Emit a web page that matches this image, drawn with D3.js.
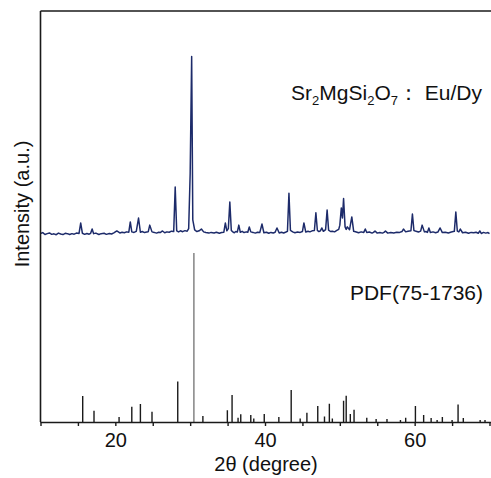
<!DOCTYPE html>
<html>
<head>
<meta charset="utf-8">
<script src="https://cdn.jsdelivr.net/npm/d3@7"></script>
<style>
  html, body { margin: 0; padding: 0; background: #fff; }
  svg { display: block; font-family: "Liberation Sans", Arial, sans-serif; }
</style>
</head>
<body>
<svg id="chart" width="491" height="478"></svg>
<script>
// ---------- data ----------
const xTicks = [10, 15, 20, 25, 30, 35, 40, 45, 50, 55, 60, 65, 70];
const xTickLabels = [20, 40, 60];

// measured XRD pattern: [2θ, relative intensity %]
const xrdPattern = [
  [10.0, 0.3], [10.3, 0.8], [10.6, -0.3], [10.9, 0.2], [11.2, 0.6], [11.5, -0.2], [11.8, 0.1],
  [12.1, -0.4], [12.4, 0.5], [12.7, 0.0], [13.0, -0.3], [13.3, 0.4], [13.6, 0.2], [13.9, -0.3],
  [14.2, 0.2], [14.5, -0.1], [14.8, 0.5], [15.15, 0.3], [15.37, 6.2], [15.6, 0.4], [15.9, -0.2],
  [16.2, 0.3], [16.5, -0.1], [16.7, 0.4], [16.9, 2.8], [17.1, 0.2], [17.4, 0.5], [17.8, -0.3],
  [18.1, 0.2], [18.5, 0.4], [18.8, -0.2], [19.2, 0.3], [19.5, 0.0], [19.8, 0.6], [20.2, 1.7],
  [20.6, 0.6], [20.9, 1.0], [21.2, 0.7], [21.5, 1.2], [21.8, 1.0], [22.0, 6.8], [22.2, 1.2],
  [22.5, 0.9], [22.8, 1.5], [23.1, 9.0], [23.35, 1.0], [23.6, 1.4], [23.9, 0.8], [24.2, 1.1],
  [24.4, 1.3], [24.6, 5.0], [24.9, 1.2], [25.2, 0.9], [25.5, 0.5], [25.8, 1.0], [26.0, 0.8],
  [26.3, 1.7], [26.6, 0.7], [26.9, 1.2], [27.2, 1.0], [27.5, 1.6], [27.8, 1.4], [28.0, 26.5],
  [28.2, 1.8], [28.45, 1.2], [28.7, 1.8], [29.0, 1.3], [29.3, 1.9], [29.6, 1.6], [29.8, 3.0],
  [30.0, 34], [30.2, 100], [30.35, 8], [30.6, 2.3], [30.9, 1.4], [31.2, 1.8], [31.5, 2.8],
  [31.8, 1.2], [32.1, 0.8], [32.5, 0.5], [32.8, 0.9], [33.2, 0.6], [33.5, 1.0], [33.9, 0.4],
  [34.2, 0.8], [34.5, 1.0], [34.7, 6.2], [34.9, 1.8], [35.1, 3.0], [35.3, 18], [35.5, 2.0],
  [35.7, 1.2], [35.9, 0.7], [36.1, 1.4], [36.3, 1.1], [36.5, 5.0], [36.7, 1.0], [36.95, 1.5],
  [37.2, 0.8], [37.5, 1.2], [37.7, 1.0], [37.9, 4.0], [38.1, 1.2], [38.4, 0.9], [38.7, 0.5],
  [39.0, 1.0], [39.3, 0.8], [39.6, 5.6], [39.85, 0.7], [40.2, 1.0], [40.5, 0.4], [40.8, 0.9],
  [41.1, 0.6], [41.35, 1.0], [41.6, 3.4], [41.9, 0.6], [42.2, 1.0], [42.5, 0.6], [42.8, 1.1],
  [43.0, 1.5], [43.2, 23], [43.4, 2.0], [43.7, 1.2], [44.0, 0.7], [44.35, 1.1], [44.7, 0.9],
  [45.0, 1.4], [45.2, 6.2], [45.45, 1.1], [45.75, 1.5], [46.0, 1.2], [46.3, 1.8], [46.6, 2.0],
  [46.8, 12], [47.0, 2.0], [47.2, 1.4], [47.4, 1.8], [47.6, 3.4], [47.8, 1.5], [48.1, 2.5],
  [48.3, 13.5], [48.5, 2.2], [48.75, 1.4], [49.0, 1.6], [49.3, 1.2], [49.6, 2.0], [49.85, 2.6],
  [50.0, 5.0], [50.2, 14.7], [50.35, 9.0], [50.5, 20], [50.7, 4.0], [50.85, 2.6], [51.0, 4.0],
  [51.3, 2.4], [51.6, 9.6], [51.85, 1.5], [52.2, 1.1], [52.5, 0.7], [52.85, 1.2], [53.2, 0.9],
  [53.4, 2.8], [53.6, 0.8], [53.95, 1.1], [54.3, 0.5], [54.5, 0.9], [54.7, 1.7], [55.0, 0.5],
  [55.35, 0.9], [55.7, 0.5], [55.9, 0.9], [56.1, 1.7], [56.4, 0.5], [56.8, 0.9], [57.2, 0.6],
  [57.6, 1.0], [58.0, 0.9], [58.3, 1.4], [58.5, 2.8], [58.8, 1.2], [59.1, 1.5], [59.5, 1.8],
  [59.7, 11.3], [59.9, 2.0], [60.2, 1.5], [60.5, 1.1], [60.8, 1.6], [61.0, 5.0], [61.3, 1.2],
  [61.5, 1.4], [61.7, 0.9], [61.9, 3.4], [62.1, 0.9], [62.45, 1.2], [62.8, 0.7], [63.1, 1.1],
  [63.4, 3.4], [63.7, 0.8], [64.1, 1.0], [64.5, 0.6], [64.9, 1.1], [65.3, 1.5], [65.5, 12.4],
  [65.7, 1.6], [65.9, 1.2], [66.1, 2.8], [66.4, 0.7], [66.8, 1.0], [67.2, 0.4], [67.55, 0.9],
  [67.9, 0.7], [68.2, 1.0], [68.5, 0.4], [68.7, 1.7], [68.9, 0.3], [69.2, 0.9], [69.5, 0.5],
  [69.8, 0.8], [70.0, 0.2]
];

// reference card PDF 75-1736: stick positions and relative intensities
const pdfTheta = [15.64, 17.15, 20.5, 22.2, 23.35, 24.9, 28.34, 30.5, 31.7, 34.97, 35.6, 36.4,
  36.76, 38.1, 38.5, 39.9, 41.85, 43.5, 44.7, 45.6, 47.05, 47.95, 48.6, 49.0, 50.5, 50.85,
  51.4, 51.9, 53.6, 54.85, 56.3, 58.1, 58.8, 60.1, 61.2, 62.2, 63.0, 63.7, 65.0, 65.8, 66.5,
  68.75, 69.4];
const pdfIntensity = [15.4, 6.7, 3.0, 9.0, 10.6, 6.0, 24.0, 100, 3.5, 7.0, 16.0, 2.5,
  4.6, 4.2, 2.0, 4.8, 3.0, 19.0, 2.0, 5.4, 9.5, 3.2, 10.8, 2.0, 12.6, 15.5,
  4.8, 7.2, 2.5, 1.8, 1.8, 1.2, 2.5, 9.5, 4.2, 2.4, 1.2, 3.0, 1.2, 10.3, 2.4,
  1.2, 1.2];

const sampleLabel = ["Sr", "2", "MgSi", "2", "O", "7", "\uFF1A Eu/Dy"];
const pdfLabel = "PDF(75-1736)";
const xTitle = "2θ (degree)";
const yTitle = "Intensity (a.u.)";

// ---------- layout ----------
const mLeft = 40.5, mRight = 489.5, mTop = 11, mBottom = 422;
const svg = d3.select("#chart");

const x = d3.scaleLinear().domain([10, 70]).range([mLeft, mRight]);
const yXrd = d3.scaleLinear().domain([0, 100]).range([234, 56.5]);
const yPdf = d3.scaleLinear().domain([0, 100]).range([mBottom, 253]);

svg.append("defs").append("clipPath").attr("id", "clip")
  .append("rect").attr("x", mLeft).attr("y", mTop).attr("width", 491 - mLeft).attr("height", mBottom - mTop);

const plot = svg.append("g").attr("clip-path", "url(#clip)");

// sticks
plot.selectAll("line.stick").data(pdfTheta.map((t, i) => [t, pdfIntensity[i]]))
  .enter().append("line")
  .attr("class", "stick")
  .attr("x1", d => x(d[0])).attr("x2", d => x(d[0]))
  .attr("y1", yPdf(0)).attr("y2", d => yPdf(d[1]))
  .attr("stroke", d => d[1] > 90 ? "#666" : "#1a1a1a")
  .attr("stroke-width", d => d[1] > 90 ? 1.2 : 1.4);

// XRD line
const line = d3.line().x(d => x(d[0])).y(d => yXrd(d[1]));
plot.append("path").datum(xrdPattern)
  .attr("d", line)
  .attr("fill", "none")
  .attr("stroke", "#1d2b6a")
  .attr("stroke-width", 1.5)
  .attr("stroke-linejoin", "round");

// axes
const xAxis = d3.axisBottom(x).tickValues(xTicks).tickSize(4)
  .tickFormat(d => xTickLabels.includes(d) ? d : "");
const gx = svg.append("g").attr("transform", `translate(0,${mBottom})`).call(xAxis);
gx.select(".domain").attr("stroke", "#1a1a1a").attr("stroke-width", 1.6)
  .attr("d", `M${mLeft},0.5H491`);
gx.selectAll(".tick line").attr("stroke", "#1a1a1a").attr("stroke-width", 1.4);
gx.selectAll(".tick text").attr("font-size", 20).attr("fill", "#111")
  .attr("font-family", "Liberation Sans, Arial, sans-serif").attr("dy", "0.9em");

// left axis line and top frame line
svg.append("line").attr("x1", mLeft).attr("x2", mLeft).attr("y1", mTop).attr("y2", mBottom)
  .attr("stroke", "#1a1a1a").attr("stroke-width", 1.6);
svg.append("line").attr("x1", mLeft).attr("x2", 491).attr("y1", mTop).attr("y2", mTop)
  .attr("stroke", "#1a1a1a").attr("stroke-width", 1.6);

// titles
svg.append("text").attr("x", 266).attr("y", 471).attr("text-anchor", "middle")
  .attr("font-size", 20).attr("fill", "#111").text(xTitle);
svg.append("text").attr("transform", "translate(29,204) rotate(-90)")
  .attr("text-anchor", "middle").attr("font-size", 20).attr("fill", "#111").text(yTitle);

// annotations
const t1 = svg.append("text").attr("x", 482).attr("y", 100).attr("text-anchor", "end")
  .attr("font-size", 21).attr("fill", "#111");
sampleLabel.forEach((s, i) => {
  const sub = i === 1 || i === 3 || i === 5;
  t1.append("tspan").text(s)
    .attr("font-size", sub ? 13 : 21)
    .attr("dy", sub ? 5 : (i > 0 ? -5 : 0));
});
svg.append("text").attr("x", 483).attr("y", 300).attr("text-anchor", "end")
  .attr("font-size", 21).attr("fill", "#111").text(pdfLabel);
</script>
</body>
</html>
